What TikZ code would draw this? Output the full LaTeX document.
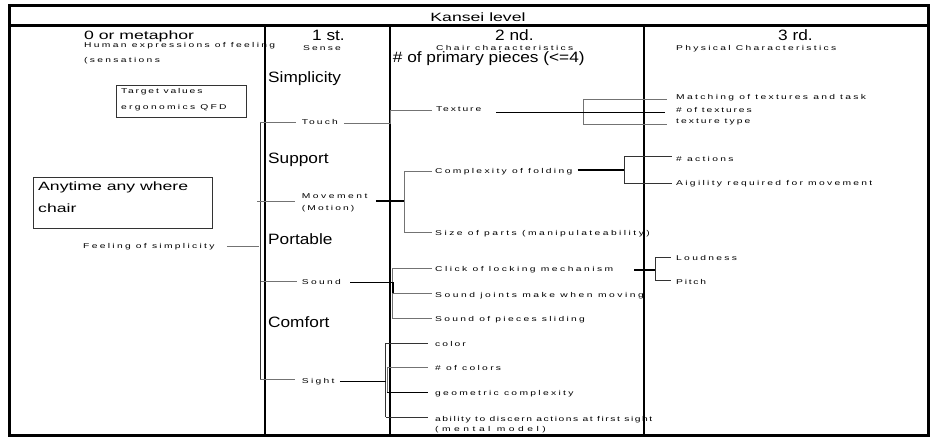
\documentclass[tikz,border=0pt]{standalone}
\usepackage{fontspec}
\setmainfont{Liberation Sans}
\newfontfamily\smf[FakeStretch=1.47,LetterSpace=33]{Liberation Sans}
\newfontfamily\bgf[FakeStretch=1.47]{Liberation Sans}
\newfontfamily\bgg[FakeStretch=1.15]{Liberation Sans}
\newcommand\lsp[1]{\addfontfeatures{LetterSpace=#1}}
\begin{document}
\begin{tikzpicture}[x=1pt,y=-1pt,
  sm/.style={font=\smf\fontsize{7}{8}\selectfont, anchor=base west, inner sep=0pt},
  bg/.style={font=\bgf\fontsize{12}{14}\selectfont, anchor=base west, inner sep=0pt},
  bb/.style={font=\bgg\fontsize{15}{17}\selectfont, anchor=base west, inner sep=0pt},
  gl/.style={draw=black!55, line width=0.8pt},
  dl/.style={draw=black!80, line width=0.8pt},
  bl/.style={draw=black, line width=1.1pt},
  boxst/.style={draw=black!80, line width=0.9pt, anchor=north west, inner sep=0pt},
]
\useasboundingbox (0,0) rectangle (934,438);
% frame
\draw[line width=3pt] (9.5,6) rectangle (928,435.5);
\draw[line width=2.5pt] (9.5,25.3) -- (928,25.3);
\draw[line width=2pt] (264.5,25.3) -- (264.5,435.5);
\draw[line width=2pt] (389.5,25.3) -- (389.5,435.5);
\draw[line width=2pt] (643.8,25.3) -- (643.8,435.5);

% headings
\node[bg, anchor=base] (kansei) at (478,21.5) {Kansei level};
\node[bg] (h0) at (84,40) {0 or metaphor};
\node[sm] (h0a) at (84,48) {Human expressions of feeling};
\node[sm] (h0b) at (84,63) {(sensations};
\node[bb] (h1) at (312,41) {1 st.};
\node[sm] (h1a) at (303,50.5) {\lsp{30}Sense};
\node[bb] (h2) at (495,41) {2 nd.};
\node[sm] (h2a) at (436,50.5) {Chair characteristics};
\node[bb] (h2b) at (392.7,63) {\# of primary pieces (<=4)};
\node[bb] (h3) at (778,41) {3 rd.};
\node[sm] (h3a) at (676,50.5) {Physical Characteristics};

% boxes
\node[boxst, minimum width=130pt, minimum height=32pt] (target) at (116,85) {};
\node[sm] (targeta) at (121,94) {\lsp{26}Target values};
\node[sm] (targetb) at (121,110) {ergonomics QFD};
\node[boxst, minimum width=179pt, minimum height=51pt] (any) at (33,177) {};
\node[bg] (anya) at (38,190.7) {Anytime any where};
\node[bg] (anyb) at (38,212.3) {chair};

% side labels
\node[bb] (simp) at (268,83) {Simplicity};
\node[bb] (supp) at (268,164) {Support};
\node[bb] (port) at (268,245) {Portable};
\node[bb] (comf) at (268,327) {Comfort};

% level 0/1 labels
\node[sm] (feel) at (83,248.3) {Feeling of simplicity};
\node[sm] (touch) at (301.7,124.5) {\lsp{30}Touch};
\node[sm] (move) at (301.7,199) {\lsp{36}Movement};
\node[sm] (motion) at (301.7,210.5) {\lsp{30}(Motion)};
\node[sm] (sound) at (301.7,284) {Sound};
\node[sm] (sight) at (301.7,383) {Sight};

% level 2 labels
\node[sm] (texture) at (436,112) {\lsp{27}Texture};
\node[sm] (cfold) at (435,173.3) {Complexity of folding};
\node[sm] (size) at (435,235.5) {\lsp{35}Size of parts (manipulateability)};
\node[sm] (click) at (435,272) {\lsp{35}Click of locking mechanism};
\node[sm] (joints) at (435,297.3) {\lsp{36}Sound joints make when moving};
\node[sm] (slide) at (435,321.3) {Sound of pieces sliding};
\node[sm] (color) at (435,346.7) {\lsp{30}color};
\node[sm] (ncol) at (435,370.7) {\# of colors};
\node[sm] (geo) at (435,395) {geometric complexity};
\node[sm] (abil) at (435,421) {\lsp{22}ability to discern actions at first sight};
\node[sm] (mental) at (435,431.5) {\lsp{50}(mental model)};

% level 3 labels
\node[sm] (match) at (676,100) {Matching of textures and task};
\node[sm] (ntex) at (676,112.5) {\lsp{27}\# of textures};
\node[sm] (ttype) at (676,124) {\lsp{29}texture type};
\node[sm] (nact) at (676,161.5) {\# actions};
\node[sm] (agil) at (676,186) {Aigility required for movement};
\node[sm] (loud) at (676,260.5) {Loudness};
\node[sm] (pitch) at (676,284) {\lsp{25}Pitch};

% ---- connectors ----
% left spine
\coordinate (lt) at (260,122);
\coordinate (lb) at (260,379.5);
\draw[dl] (lt) -- (lb);
\draw[gl, shorten >=5.7pt] (lt) -- (touch.west |- lt);
\coordinate (lm) at (257,201);
\draw[gl, shorten >=6.7pt] (lm) -- (move.west |- lm);
\coordinate (ls) at (260.7,281);
\draw[gl, shorten >=5pt] (ls) -- (sound.west |- ls);
\draw[gl, shorten >=6.7pt] (lb) -- (sight.west |- lb);
\coordinate (lf) at (259,246);
\draw[gl, shorten <=12pt] (feel.east |- lf) -- (lf);

% touch -> texture
\coordinate (tq) at (390.5,123);
\coordinate (tr) at (390.5,110);
\draw[gl, shorten <=6pt, shorten >=4pt] (touch.east |- tq) -- (tq) -- (tr) -- (texture.west |- tr);

% texture -> physical
\coordinate (tsA) at (583,99);
\coordinate (tsB) at (583,112.3);
\coordinate (tsC) at (583,124);
\draw[gl] (tsA) -- (tsC);
\draw[bl, shorten <=15pt, shorten >=11pt] (texture.east |- tsB) -- (ntex.west |- tsB);
\draw[gl, shorten >=9pt] (tsA) -- (match.west |- tsA);
\draw[gl, shorten >=9pt] (tsC) -- (ttype.west |- tsC);

% movement -> chair
\coordinate (mA) at (404,171.7);
\coordinate (mB) at (404,201);
\coordinate (mC) at (404,232);
\draw[gl] (mA) -- (mC);
\draw[bl, shorten <=8pt] (move.east |- mB) -- (mB);
\draw[gl, shorten >=3pt] (mA) -- (cfold.west |- mA);
\draw[gl, shorten >=3pt] (mC) -- (size.west |- mC);

% complexity -> physical
\coordinate (cA) at (624,156.7);
\coordinate (cB) at (624,170);
\coordinate (cC) at (624,183.3);
\draw[dl, line width=1pt] (cA) -- (cC);
\draw[bl, line width=1.4pt, shorten <=5pt] (cfold.east |- cB) -- (cB);
\draw[dl, shorten >=4pt] (cA) -- (nact.west |- cA);
\draw[dl, shorten >=4pt] (cC) -- (agil.west |- cC);

% sound -> chair
\coordinate (sA) at (392,268.3);
\coordinate (sB) at (393,282.3);
\coordinate (sB2) at (393,293.3);
\coordinate (sC) at (392,318.3);
\draw[gl] (sA) -- (sC);
\draw[bl, shorten <=9pt] (sound.east |- sB) -- (sB) -- (sB2);
\draw[gl, shorten >=3pt] (sA) -- (click.west |- sA);
\draw[gl, shorten >=3pt] (sB2) -- (joints.west |- sB2);
\draw[gl, shorten >=3pt] (sC) -- (slide.west |- sC);

% click -> physical
\coordinate (kA) at (655,257.3);
\coordinate (kB) at (655,270);
\coordinate (kC) at (655,280.7);
\draw[dl] (kA) -- (kC);
\draw[bl, shorten <=21pt] (click.east |- kB) -- (kB);
\draw[dl, shorten >=5pt] (kA) -- (loud.west |- kA);
\draw[dl, shorten >=5pt] (kC) -- (pitch.west |- kC);

% sight -> chair
\coordinate (gA) at (385.7,343.3);
\coordinate (gB) at (385.7,381.7);
\coordinate (gC) at (385.7,417.3);
\coordinate (gD) at (387.3,367.7);
\coordinate (gE) at (387.3,392.3);
\draw[dl] (gA) -- (gC);
\draw[gl] (gD) -- (gE);
\draw[bl, shorten <=5pt] (sight.east |- gB) -- (gB);
\draw[dl, shorten >=7pt] (gA) -- (color.west |- gA);
\draw[gl, shorten >=7pt] (gD) -- (ncol.west |- gD);
\draw[bl, shorten >=7pt] (gE) -- (geo.west |- gE);
\draw[dl, shorten >=7pt] (gC) -- (abil.west |- gC);
\end{tikzpicture}
\end{document}
